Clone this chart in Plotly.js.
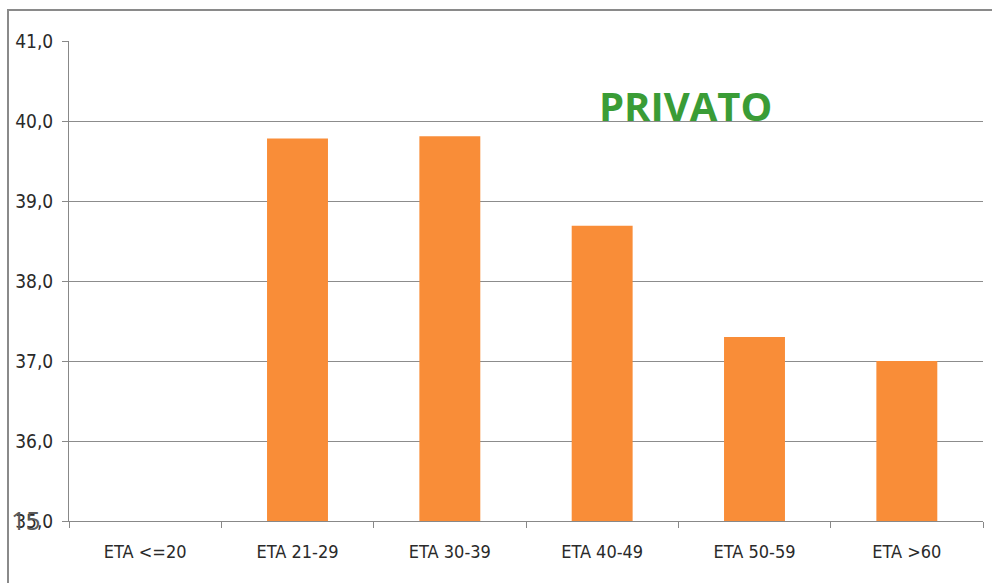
<!DOCTYPE html>
<html>
<head>
<meta charset="utf-8">
<script src="https://cdn.plot.ly/plotly-3.0.1.min.js"></script>
<style>
html,body{margin:0;padding:0;background:#fff;}
#frame{position:absolute;left:7px;top:9px;width:985px;height:574px;border-top:2px solid #8a8a8a;border-left:2px solid #8a8a8a;box-sizing:border-box;pointer-events:none;z-index:2;}
#chart{position:absolute;left:0;top:0;width:992px;height:583px;}
</style>
</head>
<body>
<div id="chart"></div>
<div id="frame"></div>
<script>
const categories = ["ETA <=20", "ETA 21-29", "ETA 30-39", "ETA 40-49", "ETA 50-59", "ETA >60"];
const values = [null, 39.78, 39.81, 38.69, 37.30, 37.00];
const yTicks = [35, 36, 37, 38, 39, 40, 41];
const baseValue = 35;

const trace = {
  type: "bar",
  x: categories,
  y: values.map(v => v === null ? null : v - baseValue),
  base: baseValue,
  marker: {color: "#f98d38", line: {width: 0}},
  width: 0.4,
  hoverinfo: "x+y"
};

const layout = {
  width: 992, height: 583,
  margin: {l: 69, r: 9, t: 41, b: 62},
  paper_bgcolor: "#fff", plot_bgcolor: "#fff",
  separators: ",.",
  showlegend: false,
  font: {family: "Liberation Sans Narrow, DejaVu Sans Condensed, sans-serif", color: "#2a2a2a", size: 18},
  xaxis: {
    type: "category",
    tickson: "boundaries",
    ticks: "outside", ticklen: 6, tickcolor: "#888",
    showline: true, linecolor: "#888", linewidth: 1,
    showgrid: false,
    tickfont: {size: 18, color: "#2a2a2a"},
    ticklabelstandoff: 14,
    range: [-0.5, 5.5]
  },
  yaxis: {
    range: [35, 41],
    tickvals: yTicks,
    tickformat: ".1f",
    ticks: "outside", ticklen: 6, tickcolor: "#888",
    showline: true, linecolor: "#888", linewidth: 1,
    showgrid: true, gridcolor: "#8c8c8c", gridwidth: 1,
    zeroline: false,
    tickfont: {size: 19, color: "#2a2a2a"},
    ticklabelstandoff: 5
  },
  annotations: [
    {text: "<b>PRIVATO</b>", xref: "paper", yref: "paper", x: 0.6745, y: 0.866, xanchor: "center", yanchor: "middle",
     showarrow: false, font: {family: "Open Sans, sans-serif", size: 40, color: "#3a9c36"}},
    {text: "15", xref: "paper", yref: "paper", x: -0.066, y: 0.002, xanchor: "left", yanchor: "middle",
     showarrow: false, font: {family: "Open Sans, sans-serif", size: 26, color: "#5a5a5a"}}
  ]
};

Plotly.newPlot("chart", [trace], layout, {displayModeBar: false, staticPlot: true});
</script>
</body>
</html>
